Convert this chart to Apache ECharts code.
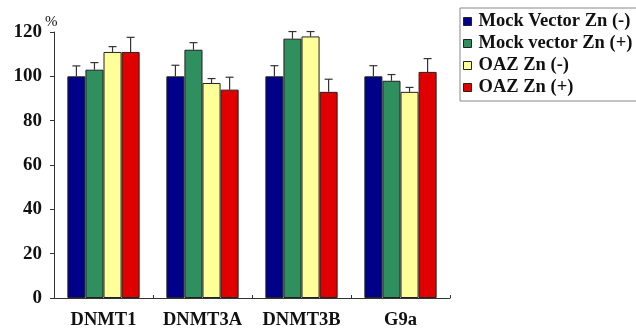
<!DOCTYPE html>
<html><head><meta charset="utf-8">
<script src="https://cdn.jsdelivr.net/npm/echarts@6/dist/echarts.min.js"></script>
<style>html,body{margin:0;padding:0;background:#fff}#c{width:636px;height:330px}</style>
</head><body><div id="c"></div>
<script>
const categories = ['DNMT1', 'DNMT3A', 'DNMT3B', 'G9a'];
const seriesNames = ['Mock Vector Zn (-)', 'Mock vector Zn (+)', 'OAZ Zn (-)', 'OAZ Zn (+)'];
const mockMinus = [100, 100, 100, 100];
const mockPlus = [103, 112, 117, 98];
const oazMinus = [111, 97, 118, 93];
const oazPlus = [111, 94, 93, 102];
const errMockMinus = [4.7, 5, 4.8, 4.8];
const errMockPlus = [3.2, 3.2, 3.2, 2.8];
const errOazMinus = [2.4, 2, 2.2, 2];
const errOazPlus = [6.6, 5.6, 5.7, 6];
const yTicks = [0, 20, 40, 60, 80, 100, 120];
const yUnit = '%';
const colors = ['#000088', '#2f8f5f', '#ffff99', '#e00000'];

const values = [mockMinus, mockPlus, oazMinus, oazPlus];
const errs = [errMockMinus, errMockPlus, errOazMinus, errOazPlus];
const catGap = 0.27;
const font = '"Liberation Serif", "DejaVu Serif", serif';

const series = [];
values.forEach((v, i) => {
  series.push({
    name: seriesNames[i], type: 'bar', data: v, barGap: '0%', barCategoryGap: (catGap * 100) + '%',
    itemStyle: { color: colors[i], borderColor: '#222', borderWidth: 1 }
  });
});
values.forEach((v, i) => {
  series.push({
    type: 'custom', name: seriesNames[i] + ' err', z: 1,
    data: v.map((val, j) => [j, val, val + errs[i][j]]),
    renderItem: function (params, api) {
      const c = api.value(0);
      const top = api.coord([c, api.value(2)]);
      const base = api.coord([c, api.value(1)]);
      const band = api.size([1, 0])[0];
      const bw = band * (1 - catGap) / 4;
      const x = top[0] + (i - 1.5) * bw;
      const cap = 4;
      return {
        type: 'group', children: [
          { type: 'line', shape: { x1: x, y1: base[1], x2: x, y2: top[1] }, style: { stroke: '#333', lineWidth: 1.2 } },
          { type: 'line', shape: { x1: x - cap, y1: top[1], x2: x + cap, y2: top[1] }, style: { stroke: '#333', lineWidth: 1.2 } }
        ]
      };
    },
    encode: { x: 0, y: 2 }
  });
});

const chart = echarts.init(document.getElementById('c'));
chart.setOption({
  animation: false,
  grid: { left: 54, top: 32, right: 186, bottom: 30, containLabel: false },
  graphic: [{
    type: 'text', left: 45, top: 15,
    style: { text: yUnit, fontFamily: font, fontSize: 15, fill: '#111' }
  }],
  legend: {
    data: seriesNames, orient: 'vertical', left: 460, top: 8,
    itemWidth: 8, itemHeight: 8, itemGap: 3, icon: 'rect',
    borderColor: '#888', borderWidth: 1, padding: [4, 20, 4, 3],
    textStyle: { fontFamily: font, fontWeight: 'bold', fontSize: 18.5, color: '#111', padding: [0, 0, 0, 2] },
    itemStyle: { borderColor: '#222', borderWidth: 1 }
  },
  xAxis: {
    type: 'category', data: categories,
    axisLine: { lineStyle: { color: '#333', width: 1 } },
    axisTick: { show: true, inside: true, length: 3, lineStyle: { color: '#333' } },
    axisLabel: { interval: 0, fontFamily: font, fontWeight: 'bold', fontSize: 18.5, color: '#111', margin: 13, hideOverlap: false }
  },
  yAxis: {
    type: 'value', min: 0, max: 120, interval: 20,
    axisLine: { show: true, lineStyle: { color: '#333', width: 1 } },
    axisTick: { show: true, length: 4, lineStyle: { color: '#333' } },
    splitLine: { show: false },
    axisLabel: { fontFamily: font, fontWeight: 'bold', fontSize: 19, color: '#111', margin: 12,
      formatter: v => yTicks.includes(v) ? String(v) : '' }
  },
  series: series
});
</script></body></html>
